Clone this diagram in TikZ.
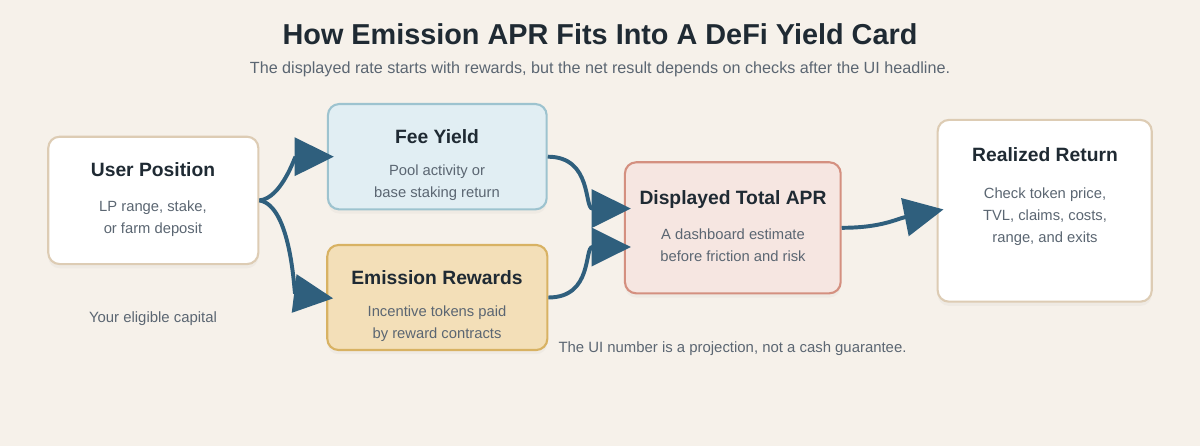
\documentclass[tikz,border=0pt]{standalone}
\usepackage{fontspec}
\setmainfont{Liberation Sans}
\usetikzlibrary{arrows.meta,shadows}

\definecolor{bgcream}{HTML}{F6F1EA}
\definecolor{inkdark}{HTML}{1F2A33}
\definecolor{inkgrey}{HTML}{5B6672}
\definecolor{flowblue}{HTML}{2F5F7D}
\definecolor{sandline}{HTML}{DDCCB4}
\definecolor{feefill}{HTML}{E1EEF3}
\definecolor{feeline}{HTML}{9DC3CF}
\definecolor{emisfill}{HTML}{F3DFB8}
\definecolor{emisline}{HTML}{D8B263}
\definecolor{aprfill}{HTML}{F6E6E1}
\definecolor{aprline}{HTML}{D49080}

\newcommand{\pxw}{0.7113pt}

\begin{document}
\begin{tikzpicture}[
  x=0.025cm, y=-0.025cm,
  card/.style={draw, line width=1.5pt, rounded corners=8pt, inner sep=0pt,
    drop shadow={opacity=0.06, shadow xshift=0pt, shadow yshift=-3pt}},
  head/.style={anchor=base, font=\fontsize{13.7}{16}\selectfont\bfseries, text=inkdark},
  body/.style={anchor=base, align=center, font=\fontsize{10.5}{15.6}\selectfont, text=inkgrey},
  note/.style={anchor=base, font=\fontsize{10.6}{13}\selectfont, text=inkgrey},
  flow/.style={draw=flowblue, line width=2.8pt, shorten >=-5pt,
    -{Triangle[length=28pt,width=27pt]}}
  ]

\fill[bgcream] (0,0) rectangle (1200,446);
\useasboundingbox (0,0) rectangle (1200,446);

\node[anchor=base, font=\fontsize{20.5}{24}\selectfont\bfseries, text=inkdark] (title) at (600,45)
  {How Emission APR Fits Into A DeFi Yield Card};
\node[anchor=base, font=\fontsize{11.5}{14}\selectfont, text=inkgrey] (subtitle) at (600,74)
  {The displayed rate starts with rewards, but the net result depends on checks after the UI headline.};

\node[card, draw=sandline, fill=white, minimum width=210*\pxw, minimum height=127.3*\pxw] (user) at (153.3,200.4) {};
\node[card, draw=feeline, fill=feefill, minimum width=218.7*\pxw, minimum height=105.3*\pxw] (fee) at (437.3,156.7) {};
\node[card, draw=emisline, fill=emisfill, minimum width=220*\pxw, minimum height=105*\pxw] (emis) at (437.3,297.5) {};
\node[card, draw=aprline, fill=aprfill, minimum width=215.7*\pxw, minimum height=131*\pxw] (apr) at (732.8,227.8) {};
\node[card, draw=sandline, fill=white, minimum width=214*\pxw, minimum height=181.7*\pxw] (real) at (1044.7,210.8) {};

% body anchors sit on the last line
\node[head] (user-head) at (153,176.5) {User Position};
\node[body] (user-body) at (153,233.5) {LP range, stake,\\or farm deposit};
\node[head] (fee-head) at (437,144) {Fee Yield};
\node[body] (fee-body) at (437,197) {Pool activity or\\base staking return};
\node[head] (emis-head) at (437,284.5) {Emission Rewards};
\node[body] (emis-body) at (437,338) {Incentive tokens paid\\by reward contracts};
\node[head] (apr-head) at (733,204.5) {Displayed Total APR};
\node[body] (apr-body) at (733,261) {A dashboard estimate\\before friction and risk};
\node[head] (real-head) at (1045,161) {Realized Return};
\node[body] (real-body) at (1045,242) {Check token price,\\TVL, claims, costs,\\range, and exits};

\node[note] (user-note) at (153,322) {Your eligible capital};
\node[note] (apr-note) at (732.5,352) {The UI number is a projection, not a cash guarantee.};

\draw[flow] (user.east) .. controls +(22,-2) and +(-32,0) .. (fee.west);
\draw[flow] (user.east) .. controls +(32,5) and +(-32,-4) .. (emis.west);
\draw[flow] (fee.east) .. controls +(45,0) and +(-40,0) .. (apr.170);
\draw[flow] (emis.east) .. controls +(45,0) and +(-40,0) .. (apr.190);
\draw[flow] (apr.east) .. controls +(40,0) and +(-40,8) .. (real.west);

\end{tikzpicture}
\end{document}
